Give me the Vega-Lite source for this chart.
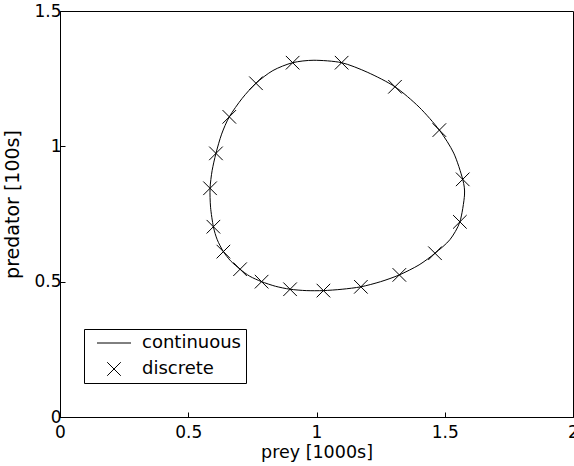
{
  "$schema": "https://vega.github.io/schema/vega-lite/v6.json",
  "width": 513,
  "height": 406,
  "autosize": {"type": "none"},
  "padding": {"left": 60, "top": 11, "right": 1, "bottom": 49},
  "background": "white",
  "config": {
    "font": "DejaVu Sans",
    "view": {"stroke": "#000", "strokeWidth": 1},
    "axis": {
      "grid": false,
      "domainColor": "#000",
      "tickColor": "#000",
      "tickSize": -5,
      "labelColor": "#000",
      "titleColor": "#000",
      "labelFontSize": 17,
      "titleFontSize": 17.5,
      "titleFontWeight": "normal",
      "labelFont": "DejaVu Sans",
      "titleFont": "DejaVu Sans",
      "format": "~g"
    }
  },
  "datasets": {
    "curve": [
      {"t": 1, "prey": 0.907, "predator": 1.309},
      {"t": 2, "prey": 0.99, "predator": 1.318},
      {"t": 3, "prey": 1.098, "predator": 1.309},
      {"t": 4, "prey": 1.2, "predator": 1.273},
      {"t": 5, "prey": 1.306, "predator": 1.22},
      {"t": 6, "prey": 1.4, "predator": 1.145},
      {"t": 7, "prey": 1.479, "predator": 1.06},
      {"t": 8, "prey": 1.535, "predator": 0.975},
      {"t": 9, "prey": 1.57, "predator": 0.878},
      {"t": 10, "prey": 1.577, "predator": 0.82},
      {"t": 11, "prey": 1.559, "predator": 0.721},
      {"t": 12, "prey": 1.52, "predator": 0.655},
      {"t": 13, "prey": 1.462, "predator": 0.605},
      {"t": 14, "prey": 1.4, "predator": 0.562},
      {"t": 15, "prey": 1.323, "predator": 0.525},
      {"t": 16, "prey": 1.25, "predator": 0.5},
      {"t": 17, "prey": 1.173, "predator": 0.481},
      {"t": 18, "prey": 1.1, "predator": 0.472},
      {"t": 19, "prey": 1.027, "predator": 0.467},
      {"t": 20, "prey": 0.96, "predator": 0.467},
      {"t": 21, "prey": 0.897, "predator": 0.472},
      {"t": 22, "prey": 0.84, "predator": 0.483},
      {"t": 23, "prey": 0.786, "predator": 0.5},
      {"t": 24, "prey": 0.74, "predator": 0.52},
      {"t": 25, "prey": 0.702, "predator": 0.546},
      {"t": 26, "prey": 0.665, "predator": 0.577},
      {"t": 27, "prey": 0.637, "predator": 0.611},
      {"t": 28, "prey": 0.613, "predator": 0.655},
      {"t": 29, "prey": 0.598, "predator": 0.703},
      {"t": 30, "prey": 0.587, "predator": 0.775},
      {"t": 31, "prey": 0.585, "predator": 0.845},
      {"t": 32, "prey": 0.593, "predator": 0.91},
      {"t": 33, "prey": 0.608, "predator": 0.974},
      {"t": 34, "prey": 0.63, "predator": 1.045},
      {"t": 35, "prey": 0.66, "predator": 1.109},
      {"t": 36, "prey": 0.71, "predator": 1.177},
      {"t": 37, "prey": 0.764, "predator": 1.233},
      {"t": 38, "prey": 0.83, "predator": 1.28}
    ],
    "markers": [
      {"series": "discrete", "prey": 0.907, "predator": 1.309},
      {"series": "discrete", "prey": 1.098, "predator": 1.309},
      {"series": "discrete", "prey": 1.306, "predator": 1.22},
      {"series": "discrete", "prey": 1.479, "predator": 1.06},
      {"series": "discrete", "prey": 1.57, "predator": 0.878},
      {"series": "discrete", "prey": 1.559, "predator": 0.721},
      {"series": "discrete", "prey": 1.462, "predator": 0.605},
      {"series": "discrete", "prey": 1.323, "predator": 0.525},
      {"series": "discrete", "prey": 1.173, "predator": 0.481},
      {"series": "discrete", "prey": 1.027, "predator": 0.467},
      {"series": "discrete", "prey": 0.897, "predator": 0.472},
      {"series": "discrete", "prey": 0.786, "predator": 0.5},
      {"series": "discrete", "prey": 0.702, "predator": 0.546},
      {"series": "discrete", "prey": 0.637, "predator": 0.611},
      {"series": "discrete", "prey": 0.598, "predator": 0.703},
      {"series": "discrete", "prey": 0.585, "predator": 0.845},
      {"series": "discrete", "prey": 0.608, "predator": 0.974},
      {"series": "discrete", "prey": 0.66, "predator": 1.109},
      {"series": "discrete", "prey": 0.764, "predator": 1.233}
    ]
  },
  "layer": [
    {
      "data": {"name": "curve"},
      "mark": {"type": "line", "color": "#000", "strokeWidth": 1, "interpolate": "cardinal-closed", "tension": 0.2},
      "encoding": {
        "x": {"field": "prey", "type": "quantitative", "scale": {"domain": [0, 2], "nice": false, "zero": false},
              "axis": {"values": [0, 0.5, 1, 1.5, 2], "title": "prey [1000s]", "labelPadding": 12, "titlePadding": 3, "labelFlush": false}},
        "y": {"field": "predator", "type": "quantitative", "scale": {"domain": [0, 1.5], "nice": false, "zero": false},
              "axis": {"values": [0, 0.5, 1, 1.5], "title": "predator [100s]", "titleFontSize": 19, "labelPadding": 4, "titlePadding": 11, "titleY": 193, "labelFlush": false}},
        "order": {"field": "t", "type": "quantitative"}
      }
    },
    {
      "data": {"name": "markers"},
      "mark": {"type": "point", "filled": false, "stroke": "#000", "strokeWidth": 1, "size": 196, "opacity": 1},
      "encoding": {
        "x": {"field": "prey", "type": "quantitative"},
        "y": {"field": "predator", "type": "quantitative"},
        "shape": {
          "field": "series", "type": "nominal",
          "scale": {"domain": ["continuous", "discrete"], "range": ["M-2.43,0L2.43,0", "M-0.97,-0.97L0.97,0.97M-0.97,0.97L0.97,-0.97"]},
          "legend": {
            "title": null,
            "orient": "none",
            "legendX": 24,
            "legendY": 318,
            "direction": "vertical",
            "padding": 5,
            "strokeColor": "#000",
            "fillColor": "#fff",
            "symbolSize": 196,
            "symbolOffset": 16,
            "symbolStrokeColor": "#000",
            "symbolFillColor": "transparent",
            "symbolStrokeWidth": 1,
            "labelFontSize": 18,
            "labelFont": "DejaVu Sans",
            "labelColor": "#000",
            "labelOffset": 19,
            "rowPadding": 8
          }
        }
      }
    }
  ]
}
